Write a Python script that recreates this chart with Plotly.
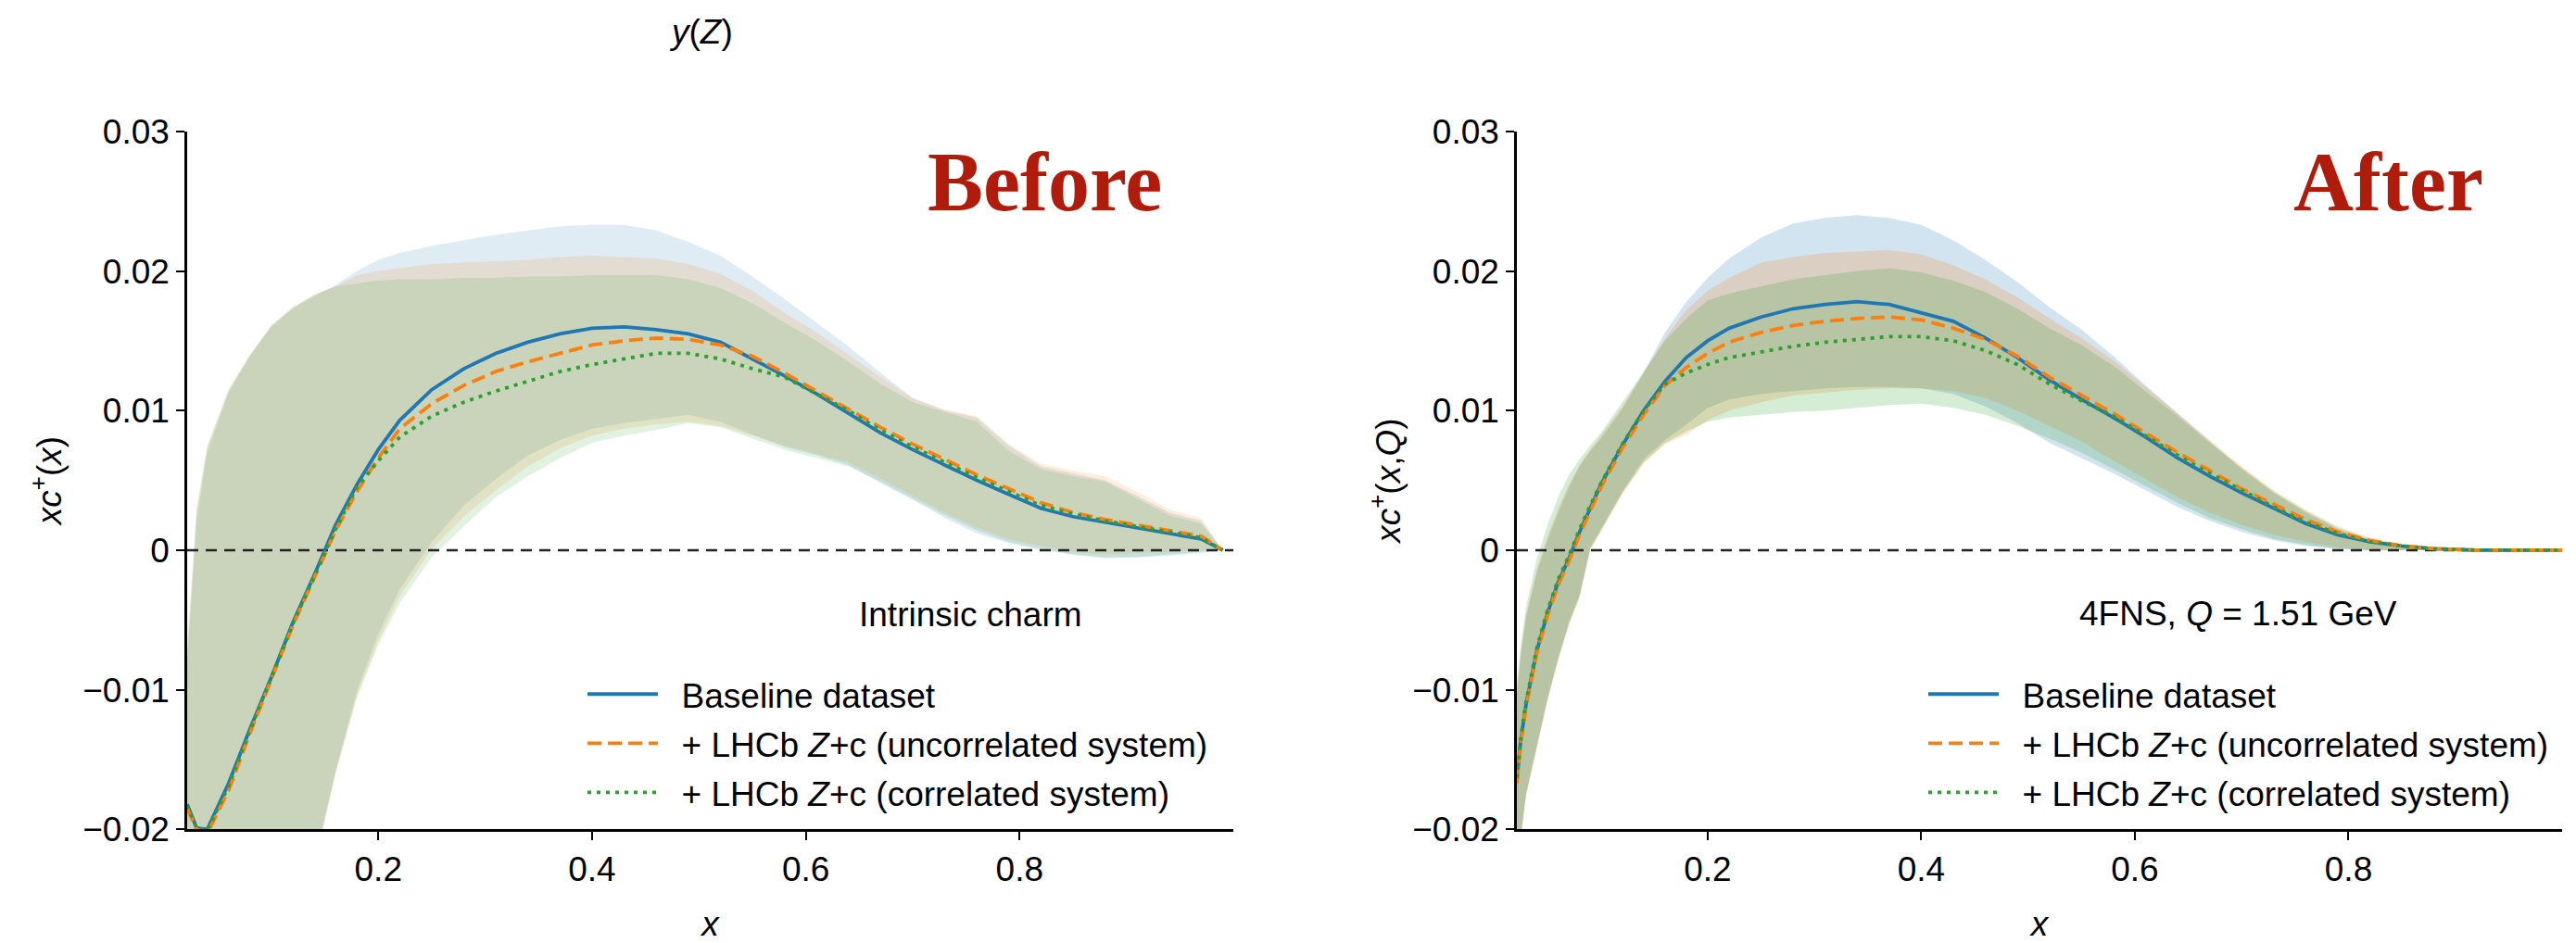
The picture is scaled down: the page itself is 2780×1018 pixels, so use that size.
import plotly.graph_objects as go

# ---------------- data: left panel ("Before", intrinsic charm) ----------------
XL = [0.0212, 0.03, 0.04, 0.06, 0.08, 0.10, 0.12, 0.14, 0.16, 0.18, 0.20, 0.22, 0.25, 0.28,
      0.31, 0.34, 0.37, 0.40, 0.43, 0.46, 0.49, 0.52, 0.55, 0.58, 0.61, 0.64, 0.67, 0.70,
      0.73, 0.76, 0.79, 0.82, 0.85, 0.88, 0.91, 0.94, 0.97, 0.99]

L_base_c = [-0.0182, -0.0199, -0.0200, -0.0167, -0.0128, -0.0091, -0.0052, -0.0018, 0.0018, 0.0047,
            0.0072, 0.0093, 0.0115, 0.0130, 0.0141, 0.0149, 0.0155, 0.0159, 0.0160, 0.0158, 0.0155,
            0.0149, 0.0137, 0.0125, 0.0112, 0.0098, 0.0084, 0.0072, 0.0061, 0.0050, 0.0040, 0.0030,
            0.0024, 0.0020, 0.0016, 0.0012, 0.0008, 0.0000]
L_unc_c = [-0.0185, -0.0200, -0.0203, -0.0172, -0.0131, -0.0093, -0.0054, -0.0020, 0.0014, 0.0042,
           0.0066, 0.0087, 0.0105, 0.0118, 0.0128, 0.0135, 0.0141, 0.0147, 0.0150, 0.0152, 0.0151,
           0.0147, 0.0139, 0.0127, 0.0114, 0.0101, 0.0088, 0.0076, 0.0065, 0.0054, 0.0044, 0.0034,
           0.0027, 0.0022, 0.0018, 0.0014, 0.0010, 0.0000]
L_cor_c = [-0.0183, -0.0199, -0.0201, -0.0169, -0.0129, -0.0091, -0.0053, -0.0019, 0.0015, 0.0045,
           0.0064, 0.0081, 0.0096, 0.0106, 0.0114, 0.0121, 0.0128, 0.0133, 0.0137, 0.0141, 0.0141,
           0.0137, 0.0130, 0.0124, 0.0112, 0.0100, 0.0086, 0.0074, 0.0063, 0.0052, 0.0042, 0.0032,
           0.0026, 0.0021, 0.0017, 0.0013, 0.0009, 0.0000]

L_base_u = [-0.0080, 0.0020, 0.0070, 0.0113, 0.0139, 0.0160, 0.0173, 0.0182, 0.0190, 0.0200,
            0.0208, 0.0213, 0.0218, 0.0222, 0.0226, 0.0229, 0.0232, 0.0233, 0.0233, 0.0229, 0.0221,
            0.0211, 0.0196, 0.0180, 0.0163, 0.0146, 0.0127, 0.0109, 0.0100, 0.0095, 0.0075, 0.0060,
            0.0055, 0.0050, 0.0039, 0.0027, 0.0021, 0.0000]
L_unc_u = [-0.0075, 0.0028, 0.0074, 0.0115, 0.0140, 0.0161, 0.0174, 0.0183, 0.0189, 0.0197,
           0.0200, 0.0202, 0.0205, 0.0206, 0.0207, 0.0208, 0.0210, 0.0211, 0.0210, 0.0209, 0.0205,
           0.0198, 0.0186, 0.0170, 0.0156, 0.0140, 0.0124, 0.0109, 0.0101, 0.0096, 0.0076, 0.0062,
           0.0057, 0.0053, 0.0042, 0.0029, 0.0023, 0.0000]
L_cor_u = [-0.0070, 0.0030, 0.0075, 0.0115, 0.0140, 0.0161, 0.0174, 0.0183, 0.0189, 0.0191,
           0.0193, 0.0194, 0.0194, 0.0195, 0.0195, 0.0196, 0.0196, 0.0197, 0.0197, 0.0197, 0.0194,
           0.0188, 0.0177, 0.0163, 0.0150, 0.0135, 0.0119, 0.0106, 0.0099, 0.0092, 0.0071, 0.0058,
           0.0053, 0.0049, 0.0037, 0.0025, 0.0019, 0.0000]

L_base_l = [-0.060, -0.055, -0.050, -0.045, -0.040, -0.035, -0.030, -0.0225, -0.0158, -0.0101,
            -0.0060, -0.0028, 0.0006, 0.0032, 0.0051, 0.0068, 0.0079, 0.0087, 0.0091, 0.0094, 0.0097,
            0.0092, 0.0083, 0.0074, 0.0068, 0.0061, 0.0048, 0.0036, 0.0023, 0.0012, 0.0005, 0.0000,
            -0.0003, -0.0006, -0.0005, -0.0004, -0.0002, 0.0000]
L_unc_l = [-0.060, -0.055, -0.050, -0.045, -0.040, -0.035, -0.030, -0.0226, -0.0160, -0.0104,
           -0.0065, -0.0033, 0.0001, 0.0024, 0.0043, 0.0060, 0.0073, 0.0082, 0.0087, 0.0090, 0.0092,
           0.0089, 0.0082, 0.0075, 0.0069, 0.0063, 0.0051, 0.0039, 0.0027, 0.0016, 0.0008, 0.0003,
           -0.0001, -0.0003, -0.0002, -0.0001, 0.0000, 0.0000]
L_cor_l = [-0.060, -0.055, -0.050, -0.045, -0.040, -0.035, -0.030, -0.0227, -0.0160, -0.0106,
           -0.0068, -0.0038, -0.0005, 0.0017, 0.0038, 0.0053, 0.0066, 0.0077, 0.0082, 0.0086, 0.0091,
           0.0088, 0.0080, 0.0072, 0.0066, 0.0060, 0.0049, 0.0037, 0.0025, 0.0014, 0.0006, 0.0001,
           -0.0003, -0.0005, -0.0005, -0.0003, -0.0001, 0.0000]

# ---------------- data: right panel ("After", 4FNS Q = 1.51 GeV) ----------------
XR = [0.0213, 0.025, 0.03, 0.04, 0.05, 0.06, 0.07, 0.08, 0.09, 0.10, 0.12, 0.14, 0.16, 0.18,
      0.20, 0.22, 0.25, 0.28, 0.31, 0.34, 0.37, 0.40, 0.43, 0.46, 0.49, 0.52, 0.55, 0.58, 0.61,
      0.64, 0.67, 0.70, 0.73, 0.76, 0.79, 0.82, 0.85, 0.88, 0.92, 0.96, 1.00]

R_base_c = [-0.0165, -0.0136, -0.0110, -0.0072, -0.0045, -0.0023, -0.0006, 0.0013, 0.0030, 0.0047,
            0.0075, 0.0100, 0.0121, 0.0138, 0.0150, 0.0159, 0.0167, 0.0173, 0.0176, 0.0178, 0.0176,
            0.0170, 0.0164, 0.0152, 0.0138, 0.0122, 0.0108, 0.0095, 0.0081, 0.0066, 0.0053, 0.0041,
            0.0030, 0.0019, 0.0011, 0.0006, 0.0003, 0.0001, 0.0000, 0.0000, 0.0000]
R_unc_c = [-0.0167, -0.0138, -0.0112, -0.0074, -0.0047, -0.0025, -0.0008, 0.0011, 0.0028, 0.0045,
           0.0073, 0.0097, 0.0118, 0.0131, 0.0141, 0.0149, 0.0156, 0.0161, 0.0164, 0.0166, 0.0167,
           0.0165, 0.0159, 0.0151, 0.0139, 0.0124, 0.0111, 0.0098, 0.0084, 0.0070, 0.0057, 0.0044,
           0.0033, 0.0022, 0.0013, 0.0007, 0.0003, 0.0001, 0.0000, 0.0000, 0.0000]
R_cor_c = [-0.0163, -0.0134, -0.0108, -0.0070, -0.0043, -0.0021, -0.0004, 0.0015, 0.0032, 0.0048,
           0.0076, 0.0100, 0.0119, 0.0127, 0.0133, 0.0138, 0.0142, 0.0146, 0.0149, 0.0151, 0.0153,
           0.0153, 0.0150, 0.0143, 0.0133, 0.0119, 0.0107, 0.0096, 0.0082, 0.0068, 0.0055, 0.0043,
           0.0031, 0.0020, 0.0012, 0.0006, 0.0003, 0.0001, 0.0000, 0.0000, 0.0000]

R_base_u = [-0.0105, -0.0075, -0.0048, -0.0016, 0.0007, 0.0027, 0.0045, 0.0060, 0.0071, 0.0080,
            0.0101, 0.0127, 0.0156, 0.0178, 0.0195, 0.0209, 0.0224, 0.0234, 0.0238, 0.0240, 0.0238,
            0.0233, 0.0222, 0.0208, 0.0192, 0.0174, 0.0158, 0.0139, 0.0118, 0.0098, 0.0078, 0.0058,
            0.0041, 0.0027, 0.0015, 0.0007, 0.0003, 0.0001, 0.0000, 0.0000, 0.0000]
R_unc_u = [-0.0102, -0.0073, -0.0046, -0.0013, 0.0010, 0.0030, 0.0047, 0.0061, 0.0072, 0.0082,
           0.0103, 0.0127, 0.0152, 0.0172, 0.0186, 0.0195, 0.0206, 0.0210, 0.0213, 0.0214, 0.0215,
           0.0212, 0.0204, 0.0194, 0.0181, 0.0166, 0.0152, 0.0136, 0.0117, 0.0098, 0.0079, 0.0060,
           0.0043, 0.0029, 0.0017, 0.0009, 0.0004, 0.0001, 0.0000, 0.0000, 0.0000]
R_cor_u = [-0.0095, -0.0068, -0.0040, -0.0006, 0.0018, 0.0038, 0.0054, 0.0065, 0.0075, 0.0084,
           0.0106, 0.0128, 0.0150, 0.0166, 0.0179, 0.0184, 0.0189, 0.0194, 0.0197, 0.0200, 0.0202,
           0.0199, 0.0193, 0.0185, 0.0173, 0.0159, 0.0147, 0.0132, 0.0114, 0.0096, 0.0077, 0.0059,
           0.0042, 0.0028, 0.0016, 0.0008, 0.0003, 0.0001, 0.0000, 0.0000, 0.0000]

R_base_l = [-0.0235, -0.0205, -0.0175, -0.0142, -0.0107, -0.0078, -0.0053, -0.0033, 0.0002, 0.0015,
            0.0042, 0.0065, 0.0079, 0.0090, 0.0102, 0.0108, 0.0112, 0.0114, 0.0116, 0.0117, 0.0117,
            0.0116, 0.0112, 0.0103, 0.0091, 0.0077, 0.0066, 0.0055, 0.0043, 0.0031, 0.0021, 0.0013,
            0.0007, 0.0003, 0.0001, 0.0000, 0.0000, 0.0000, 0.0000, 0.0000, 0.0000]
R_unc_l = [-0.0236, -0.0206, -0.0176, -0.0143, -0.0108, -0.0079, -0.0054, -0.0034, 0.0000, 0.0013,
           0.0040, 0.0062, 0.0076, 0.0083, 0.0093, 0.0100, 0.0106, 0.0111, 0.0113, 0.0115, 0.0116,
           0.0116, 0.0114, 0.0109, 0.0100, 0.0089, 0.0078, 0.0064, 0.0051, 0.0038, 0.0027, 0.0018,
           0.0011, 0.0006, 0.0002, 0.0000, 0.0000, 0.0000, 0.0000, 0.0000, 0.0000]
R_cor_l = [-0.0234, -0.0204, -0.0174, -0.0141, -0.0106, -0.0077, -0.0052, -0.0032, 0.0001, 0.0014,
           0.0041, 0.0063, 0.0077, 0.0085, 0.0092, 0.0095, 0.0097, 0.0099, 0.0100, 0.0102, 0.0104,
           0.0105, 0.0102, 0.0097, 0.0089, 0.0080, 0.0070, 0.0058, 0.0046, 0.0034, 0.0023, 0.0015,
           0.0008, 0.0004, 0.0001, 0.0000, 0.0000, 0.0000, 0.0000, 0.0000, 0.0000]

NAMES = ["Baseline dataset",
         "+ LHCb <i>Z</i>+c (uncorrelated system)",
         "+ LHCb <i>Z</i>+c (correlated system)"]
COLORS = ["#1f77b4", "#ff7f0e", "#2ca02c"]
FILL_RGB = [(31, 119, 180), (255, 127, 14), (44, 160, 44)]
DASHES = ["solid", "15px,7px", "4px,6px"]
XRANGE_L = [0.0212, 1.0]
XRANGE_R = [0.0213, 1.0]
YRANGE = [-0.02, 0.03]
XTICKS = [0.2, 0.4, 0.6, 0.8]

FONT = "Liberation Sans, Arial, Helvetica, sans-serif"
FS = 37
GAP = "\u00a0\u00a0"  # visual gap between legend sample line and its label

fig = go.Figure()


def add_panel(xa, ya, x, cen, up, lo, alpha, legend_id, xrange_):
    # uncertainty bands
    for k in range(3):
        r, g, b = FILL_RGB[k]
        fig.add_trace(go.Scatter(x=x, y=lo[k], mode="lines", line=dict(width=0),
                                 xaxis=xa, yaxis=ya, showlegend=False, hoverinfo="skip"))
        fig.add_trace(go.Scatter(x=x, y=up[k], mode="lines", line=dict(width=0),
                                 fill="tonexty", fillcolor=f"rgba({r},{g},{b},{alpha})",
                                 xaxis=xa, yaxis=ya, showlegend=False, hoverinfo="skip"))
    # zero reference line
    fig.add_trace(go.Scatter(x=xrange_, y=[0, 0], mode="lines",
                             line=dict(color="#222222", width=2.5, dash="12px,8px"),
                             xaxis=xa, yaxis=ya, showlegend=False, hoverinfo="skip"))
    # central values
    for k in range(3):
        fig.add_trace(go.Scatter(x=x, y=cen[k], mode="lines", name=GAP + NAMES[k],
                                 line=dict(color=COLORS[k], width=3.8, dash=DASHES[k]),
                                 xaxis=xa, yaxis=ya, legend=legend_id,
                                 legendgroup=f"{legend_id}_{k}"))


add_panel("x", "y", XL, [L_base_c, L_unc_c, L_cor_c], [L_base_u, L_unc_u, L_cor_u],
          [L_base_l, L_unc_l, L_cor_l], 0.14, "legend", XRANGE_L)
add_panel("x2", "y2", XR, [R_base_c, R_unc_c, R_cor_c], [R_base_u, R_unc_u, R_cor_u],
          [R_base_l, R_unc_l, R_cor_l], 0.20, "legend2", XRANGE_R)

W, H = 2780, 1018
ydom = [1 - 912 / H, 1 - 127 / H]

axis_common = dict(showline=True, linecolor="black", linewidth=2.5, showgrid=False,
                   zeroline=False, ticks="outside", ticklen=9, tickwidth=2, tickcolor="black",
                   tickfont=dict(family=FONT, size=FS, color="black"), mirror=False)

legend_common = dict(xanchor="left", yanchor="top", font=dict(family=FONT, size=FS),
                     bgcolor="rgba(0,0,0,0)", traceorder="grouped", tracegroupgap=2,
                     itemwidth=76)

fig.update_layout(
    width=W, height=H,
    margin=dict(l=0, r=0, t=0, b=0),
    paper_bgcolor="white", plot_bgcolor="white",
    font=dict(family=FONT, size=FS, color="black"),
    xaxis=dict(domain=[202 / W, 1331 / W], range=XRANGE_L, tickvals=XTICKS, anchor="y",
               title=dict(text="<i>x</i>", font=dict(size=FS), standoff=30), **axis_common),
    yaxis=dict(domain=ydom, range=YRANGE, dtick=0.01, anchor="x",
               title=dict(text="<i>xc</i><sup>+</sup>(<i>x</i>)", font=dict(size=FS), standoff=12),
               **axis_common),
    xaxis2=dict(domain=[1637 / W, 2765 / W], range=XRANGE_R, tickvals=XTICKS, anchor="y2",
                title=dict(text="<i>x</i>", font=dict(size=FS), standoff=30), **axis_common),
    yaxis2=dict(domain=ydom, range=YRANGE, dtick=0.01, anchor="x2",
                title=dict(text="<i>xc</i><sup>+</sup>(<i>x</i>,<i>Q</i>)", font=dict(size=FS),
                           standoff=2), **axis_common),
    legend=dict(x=629 / W, y=1 - 728 / H, **legend_common),
    legend2=dict(x=2076 / W, y=1 - 728 / H, **legend_common),
    showlegend=True,
)

annotations = [
    dict(text="<b>Before</b>", x=1127 / W, y=1 - 184 / H, xref="paper", yref="paper",
         showarrow=False, xanchor="center", yanchor="middle",
         font=dict(family="Liberation Serif, Times New Roman, serif", size=90, color="#B01C0C")),
    dict(text="<b>After</b>", x=2577 / W, y=1 - 184 / H, xref="paper", yref="paper",
         showarrow=False, xanchor="center", yanchor="middle",
         font=dict(family="Liberation Serif, Times New Roman, serif", size=90, color="#B01C0C")),
    dict(text="Intrinsic charm", x=1047 / W, y=1 - 670 / H, xref="paper", yref="paper",
         showarrow=False, xanchor="center", yanchor="middle", font=dict(size=FS)),
    dict(text="4FNS, <i>Q</i> = 1.51 GeV", x=2415 / W, y=1 - 669 / H, xref="paper", yref="paper",
         showarrow=False, xanchor="center", yanchor="middle", font=dict(size=FS)),
    dict(text="<i>y</i>(<i>Z</i>)", x=756 / W, y=1 - 15 / H, xref="paper", yref="paper",
         showarrow=False, xanchor="center", yanchor="middle", font=dict(size=FS)),
]
fig.update_layout(annotations=annotations)

fig.write_html("out.html")
